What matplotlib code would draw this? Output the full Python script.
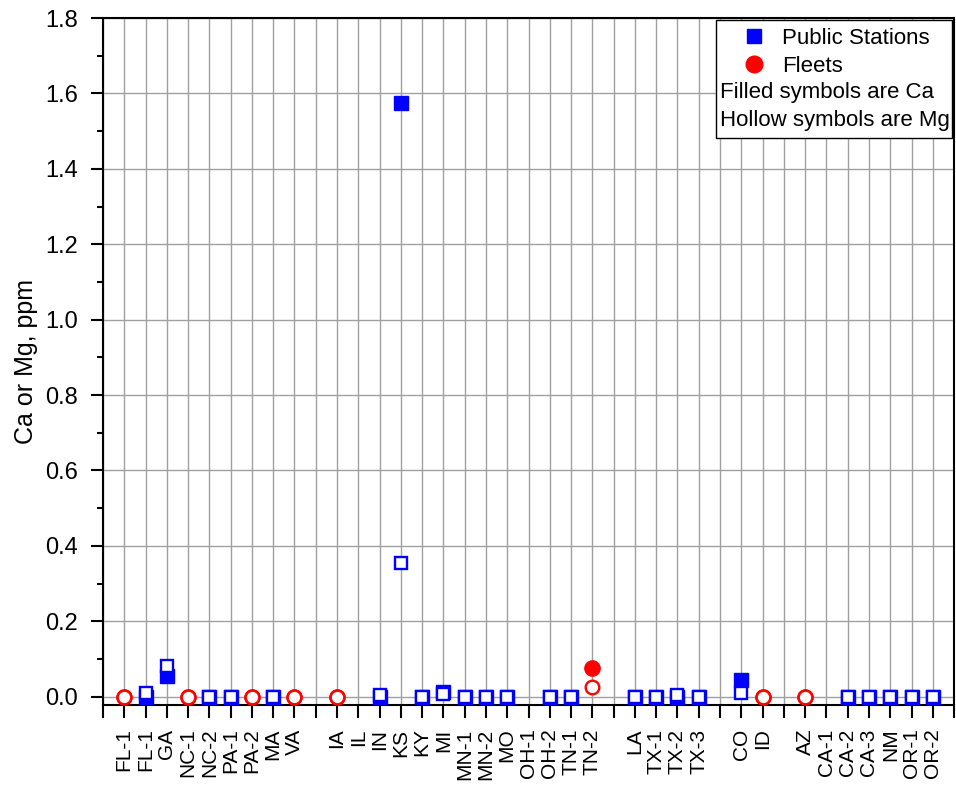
import matplotlib
matplotlib.use('Agg')
import matplotlib.pyplot as plt
import numpy as np
from matplotlib.lines import Line2D
from matplotlib.patches import Rectangle

plt.rcParams['font.family'] = ['Liberation Sans', 'DejaVu Sans']

# categories ('' = empty slot between groups)
stations = ['FL-1', 'FL-1', 'GA', 'NC-1', 'NC-2', 'PA-1', 'PA-2', 'MA', 'VA', '',
            'IA', 'IL', 'IN', 'KS', 'KY', 'MI', 'MN-1', 'MN-2', 'MO', 'OH-1', 'OH-2',
            'TN-1', 'TN-2', '', 'LA', 'TX-1', 'TX-2', 'TX-3', '', 'CO', 'ID', '',
            'AZ', 'CA-1', 'CA-2', 'CA-3', 'NM', 'OR-1', 'OR-2']
# P = public station, F = fleet, '' = no data
kind = ['F', 'P', 'P', 'F', 'P', 'P', 'F', 'P', 'F', '',
        'F', '', 'P', 'P', 'P', 'P', 'P', 'P', 'P', '', 'P',
        'P', 'F', '', 'P', 'P', 'P', 'P', '', 'P', 'F', '',
        'F', '', 'P', 'P', 'P', 'P', 'P']
nan = np.nan
ca = [0.0, 0.0, 0.055, 0.0, 0.0, 0.0, 0.0, 0.0, 0.0, nan,
      0.0, nan, 0.0, 1.575, 0.0, 0.013, 0.0, 0.0, 0.0, nan, 0.0,
      0.0, 0.075, nan, 0.0, 0.0, 0.0, 0.0, nan, 0.045, 0.0, nan,
      0.0, nan, 0.0, 0.0, 0.0, 0.0, 0.0]
mg = [0.0, 0.01, 0.08, 0.0, 0.0, 0.0, 0.0, 0.0, 0.0, nan,
      0.0, nan, 0.005, 0.355, 0.0, 0.007, 0.0, 0.0, 0.0, nan, 0.0,
      0.0, 0.025, nan, 0.0, 0.0, 0.005, 0.0, nan, 0.01, 0.0, nan,
      0.0, nan, 0.0, 0.0, 0.0, 0.0, 0.0]

x = np.arange(1, len(stations) + 1)
ca = np.array(ca)
mg = np.array(mg)
kind = np.array(kind)
pub = kind == 'P'
flt = kind == 'F'

fig = plt.figure(figsize=(9.56, 7.85), dpi=100)
ax = fig.add_axes([0.1077, 0.102, 0.8903, 0.875])

# Ca (filled) first, Mg (hollow, white face) on top
ax.plot(x[pub], ca[pub], ls='none', marker='s', ms=9.6, mfc='blue', mec='blue', mew=1, zorder=3)
ax.plot(x[flt], ca[flt], ls='none', marker='o', ms=11, mfc='red', mec='red', mew=1, zorder=3)
ax.plot(x[pub], mg[pub], ls='none', marker='s', ms=8.6, mfc='white', mec='blue', mew=1.7, zorder=4)
ax.plot(x[flt], mg[flt], ls='none', marker='o', ms=9.8, mfc='white', mec='red', mew=1.7, zorder=4)

ax.set_xlim(0, len(stations) + 1)
ax.set_ylim(-0.022, 1.8)
ax.set_xticks(np.arange(0, len(stations) + 2))
ax.set_xticklabels([''] + stations + [''], rotation=90, fontsize=15)
ax.set_yticks(np.arange(0, 1.81, 0.2))
ax.set_yticks(np.arange(0.1, 1.8, 0.2), minor=True)
ax.set_yticklabels(['%.1f' % v for v in np.arange(0, 1.81, 0.2)], fontsize=17)
ax.set_ylabel('Ca or Mg, ppm', fontsize=18, labelpad=5)

ax.grid(True, which='major', color='#a0a0a0', lw=1)
ax.set_axisbelow(True)
for s in ax.spines.values():
    s.set_linewidth(1.5)
ax.tick_params(which='major', direction='out', length=9, width=1.5)
ax.tick_params(axis='y', which='major', pad=9)
ax.tick_params(axis='x', which='major', pad=8)
ax.tick_params(which='minor', direction='out', length=4.5, width=1.5)

# legend box
ax.add_patch(Rectangle((0.7203, 0.8253), 0.2774, 0.1717, transform=ax.transAxes,
                       facecolor='white', edgecolor='black', lw=1, zorder=5))
handles = [Line2D([], [], ls='none', marker='s', ms=10, color='blue'),
           Line2D([], [], ls='none', marker='o', ms=12, color='red')]
leg = ax.legend(handles, ['Public Stations', 'Fleets'], loc='upper left',
                bbox_to_anchor=(0.7286, 1.015), frameon=False, fontsize=16,
                handlelength=1.0, handletextpad=0.77, labelspacing=0.33)
leg.set_zorder(6)
ax.text(0.725, 0.892, 'Filled symbols are Ca', transform=ax.transAxes,
        fontsize=16, va='center', ha='left', zorder=6)
ax.text(0.725, 0.8515, 'Hollow symbols are Mg', transform=ax.transAxes,
        fontsize=16, va='center', ha='left', zorder=6)

fig.savefig('out.png', dpi=100)
